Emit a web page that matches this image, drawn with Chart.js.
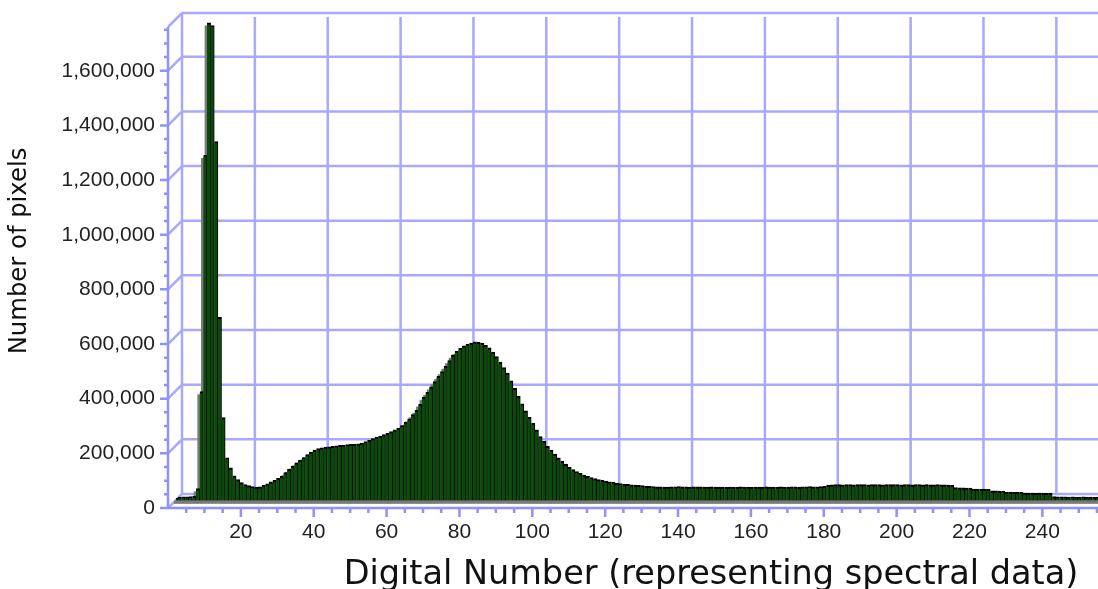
<!DOCTYPE html>
<html>
<head>
<meta charset="utf-8">
<title>DN histogram</title>
<script src="https://cdn.jsdelivr.net/npm/chart.js@4/dist/chart.umd.min.js"></script>
<style>
  html, body { margin: 0; padding: 0; background: #fff; }
  #wrap { width: 1098px; height: 589px; }
</style>
</head>
<body>
<div id="wrap"><canvas id="histChart"></canvas></div>
<script>
// one bin per digital number
const dn = Array.from({ length: 256 }, (_, i) => i);

const pixelCounts = [
  10000, 14000, 15000, 15000, 16000, 18000, 45000, 400000, 1265000, 1750000, 1740000, 1315000, 672000, 305000, 158000, 121000,
  92000, 78000, 67000, 60000, 56000, 53000, 51000, 52000, 57000, 63000, 70000, 76000, 83000, 90000, 104000, 116000,
  128000, 140000, 150000, 159000, 170000, 179000, 186000, 192000, 195000, 197000, 198000, 200000, 202000, 204000, 205000, 206000,
  207000, 208000, 209000, 212000, 217000, 222000, 228000, 233000, 238000, 243000, 248000, 254000, 260000, 267000, 276000, 288000,
  301000, 316000, 332000, 355000, 380000, 398000, 418000, 437000, 456000, 474000, 494000, 514000, 534000, 548000, 559000, 568000,
  574000, 578000, 582000, 581000, 578000, 570000, 560000, 545000, 528000, 508000, 488000, 468000, 440000, 412000, 384000, 356000,
  330000, 306000, 284000, 260000, 236000, 218000, 200000, 186000, 172000, 158000, 146000, 134000, 124000, 115000, 108000, 101000,
  95000, 90000, 86000, 82000, 78000, 76000, 73000, 70000, 68000, 66000, 64000, 62000, 61000, 59000, 58000, 57000,
  56000, 55000, 54000, 53000, 52000, 52000, 51000, 51000, 52000, 52000, 53000, 52000, 52000, 51000, 52000, 52000,
  52000, 51000, 51000, 52000, 51000, 51000, 51000, 50000, 51000, 51000, 51000, 52000, 51000, 51000, 50000, 51000,
  51000, 51000, 52000, 51000, 51000, 51000, 52000, 51000, 51000, 52000, 52000, 51000, 52000, 52000, 53000, 52000,
  52000, 53000, 54000, 58000, 59000, 60000, 60000, 59000, 60000, 60000, 59000, 60000, 60000, 60000, 59000, 60000,
  60000, 60000, 59000, 60000, 60000, 60000, 60000, 59000, 60000, 60000, 59000, 60000, 60000, 59000, 60000, 59000,
  59000, 60000, 59000, 59000, 58000, 57000, 49000, 48000, 48000, 47000, 47000, 44000, 44000, 43000, 44000, 43000,
  37000, 37000, 36000, 36000, 33000, 33000, 32000, 33000, 32000, 29000, 29000, 29000, 28000, 29000, 28000, 28000,
  28000, 16000, 15000, 15000, 15000, 14000, 15000, 14000, 14000, 15000, 14000, 14000, 13000, 14000, 13000, 12000
];

const xTicks = [20, 40, 60, 80, 100, 120, 140, 160, 180, 200, 220, 240];
const yTicks = [0, 200000, 400000, 600000, 800000, 1000000, 1200000, 1400000, 1600000];
const xTitle = 'Digital Number (representing spectral data)';
const yTitle = 'Number of pixels';

const WALL = 14;            // depth of the back wall
const gridColor = '#a8a8ff';
const axisColor = '#9090ff';
const tickFont = '"Liberation Sans", Arial, sans-serif';
const titleFont = '"DejaVu Sans", Verdana, sans-serif';

// back wall, side wall and front axes of the pseudo-3D frame
const framePlugin = {
  id: 'frame',
  beforeDatasetsDraw(chart) {
    const { ctx, chartArea: a, scales: { x, y } } = chart;
    const top = y.getPixelForValue(y.max);
    const base = y.getPixelForValue(0);
    const right = chart.width;
    ctx.save();
    ctx.lineWidth = 2.5;
    ctx.strokeStyle = gridColor;
    ctx.beginPath();
    yTicks.concat([y.max]).forEach(v => {
      const py = y.getPixelForValue(v);
      ctx.moveTo(a.left + WALL, py - WALL);
      ctx.lineTo(right, py - WALL);
      ctx.moveTo(a.left, py);
      ctx.lineTo(a.left + WALL, py - WALL);
    });
    xTicks.forEach(v => {
      const px = x.getPixelForValue(v) + WALL;
      ctx.moveTo(px, top - WALL + 4);
      ctx.lineTo(px, base - WALL);
    });
    ctx.moveTo(a.left + WALL, top - WALL);
    ctx.lineTo(a.left + WALL, base - WALL);
    ctx.stroke();

    // front axes with major and minor ticks
    ctx.strokeStyle = axisColor;
    ctx.beginPath();
    ctx.moveTo(a.left, top);
    ctx.lineTo(a.left, base);
    ctx.moveTo(a.left, base);
    ctx.lineTo(right, base);
    for (let v = 0; v <= y.max; v += 50000) {
      const py = y.getPixelForValue(v);
      ctx.moveTo(a.left - (v % 200000 === 0 ? 8 : 4), py);
      ctx.lineTo(a.left, py);
    }
    for (let v = 5; v <= x.max; v += 5) {
      const px = x.getPixelForValue(v);
      ctx.moveTo(px, base);
      ctx.lineTo(px, base + (v % 20 === 0 ? 9 : 5));
    }
    ctx.stroke();
    ctx.restore();
  }
};

// bars sit a little way into the box; the shadow copy sits behind them
const depthPlugin = {
  id: 'depth',
  beforeDatasetDraw(chart, args) {
    const s = chart.data.datasets[args.index].shift || { x: 0, y: 0 };
    chart.ctx.save();
    chart.ctx.translate(s.x, s.y);
  },
  afterDatasetDraw(chart) {
    chart.ctx.restore();
  }
};

function fitFont(ctx, text, width, family) {
  ctx.font = '100px ' + family;
  const size = 100 * width / ctx.measureText(text).width;
  return size.toFixed(1) + 'px ' + family;
}

const titlePlugin = {
  id: 'titles',
  afterDraw(chart) {
    const ctx = chart.ctx;
    ctx.save();
    ctx.fillStyle = '#111';
    ctx.textAlign = 'center';
    ctx.textBaseline = 'alphabetic';
    ctx.font = fitFont(ctx, xTitle, 735, titleFont);
    ctx.fillText(xTitle, 711, 584);
    ctx.translate(20, 251);
    ctx.rotate(-Math.PI / 2);
    ctx.textBaseline = 'middle';
    ctx.font = fitFont(ctx, yTitle, 207, titleFont);
    ctx.fillText(yTitle, 0, 0);
    ctx.restore();
  }
};

const points = pixelCounts.map((c, i) => ({ x: dn[i], y: c }));

new Chart(document.getElementById('histChart'), {
  type: 'bar',
  data: {
    datasets: [
      {
        label: 'Pixels',
        data: points,
        shift: { x: 8, y: -7 },
        backgroundColor: '#0b4a0b',
        borderColor: '#000',
        borderWidth: { top: 2, right: 1, left: 0, bottom: 0 },
        borderSkipped: false,
        barPercentage: 1,
        categoryPercentage: 1,
        grouped: false
      },
      {
        label: 'shadow',
        data: points,
        shift: { x: 6, y: -4 },
        backgroundColor: '#7a7a7a',
        borderWidth: 0,
        barPercentage: 1,
        categoryPercentage: 1,
        grouped: false
      }
    ]
  },
  options: {
    responsive: true,
    maintainAspectRatio: false,
    animation: false,
    layout: { padding: { top: 27, right: 1, left: 0, bottom: 0 } },
    plugins: { legend: { display: false }, tooltip: { enabled: false } },
    scales: {
      x: {
        type: 'linear',
        min: 0,
        max: 255,
        offset: false,
        afterFit(scale) { scale.height = 81; },
        afterBuildTicks(scale) { scale.ticks = xTicks.map(v => ({ value: v })); },
        grid: { color: 'transparent', drawTicks: true, tickLength: 8 },
        border: { display: false },
        ticks: {
          padding: 4,
          maxRotation: 0,
          autoSkip: false,
          color: '#222',
          font: { family: tickFont, size: 21 }
        }
      },
      y: {
        min: 0,
        max: 1760000,
        afterFit(scale) { scale.width = 168; },
        afterBuildTicks(scale) { scale.ticks = yTicks.map(v => ({ value: v })); },
        grid: { color: 'transparent', drawTicks: true, tickLength: 8 },
        border: { display: false },
        ticks: {
          padding: 5,
          color: '#222',
          font: { family: tickFont, size: 21 },
          callback: v => v.toLocaleString('en-US')
        }
      }
    }
  },
  plugins: [framePlugin, depthPlugin, titlePlugin]
});
</script>
</body>
</html>
